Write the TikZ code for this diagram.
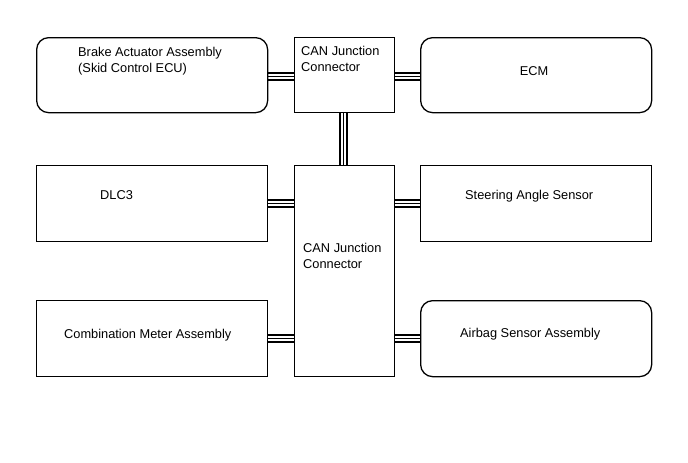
\documentclass[tikz,border=0pt]{standalone}
\usepackage{fontspec}
\setmainfont{Liberation Sans}
\pgfdeclarelayer{background}
\pgfsetlayers{background,main}
\begin{document}
\begin{tikzpicture}[x=1pt,y=-1pt,
  box/.style={draw=black,line width=1.3pt,fill=white,inner sep=0pt,anchor=north west},
  rbox/.style={box,rounded corners=12pt},
  txt/.style={anchor=base west,inner sep=0pt,font=\fontsize{12.8}{15}\selectfont},
  triple/.style={line width=9.3pt,draw=black,
    postaction={draw=white,line width=5.5pt},
    postaction={draw=black,line width=1.6pt}}]
\useasboundingbox (0,0) rectangle (688,463);
% boxes
\node[rbox,minimum width=231pt,minimum height=75pt] (brake) at (36,37) {};
\node[box,minimum width=100pt,minimum height=75pt] (cantop) at (294,37) {};
\node[rbox,minimum width=231pt,minimum height=75pt] (ecm) at (420,37) {};
\node[box,minimum width=231pt,minimum height=76pt] (dlc) at (36,165) {};
\node[box,minimum width=100pt,minimum height=211pt] (canbig) at (294,165) {};
\node[box,minimum width=231pt,minimum height=76pt] (steer) at (420,165) {};
\node[box,minimum width=231pt,minimum height=76pt] (comb) at (36,300) {};
\node[rbox,minimum width=231pt,minimum height=76pt] (airbag) at (420,300) {};
% texts
\node[txt] (t1) at (78,56) {Brake Actuator Assembly};
\node[txt] (t2) at (78,72) {(Skid Control ECU)};
\node[txt] (t3) at (301,55.5) {CAN Junction};
\node[txt] (t4) at (301,71) {Connector};
\node[txt,anchor=base] (t5) at (534,75) {ECM};
\node[txt] (t6) at (100,199) {DLC3};
\node[txt] (t7) at (465,199) {Steering Angle Sensor};
\node[txt] (t8) at (303,252.5) {CAN Junction};
\node[txt] (t9) at (303,268) {Connector};
\node[txt] (t10) at (64,338) {Combination Meter Assembly};
\node[txt] (t11) at (460,337) {Airbag Sensor Assembly};
% connectors
\begin{pgfonlayer}{background}
\draw[triple] ([yshift=-1.5pt]brake.east) -- ([yshift=-1.5pt]cantop.west);
\draw[triple] ([yshift=-1.5pt]cantop.east) -- ([yshift=-1.5pt]ecm.west);
\draw[triple] ([xshift=-1pt]cantop.south) -- ([xshift=-1pt]canbig.north);
\draw[triple] (dlc.east) -- (dlc.east -| canbig.west);
\draw[triple] (steer.west) -- (steer.west -| canbig.east);
\draw[triple] (comb.east) -- (comb.east -| canbig.west);
\draw[triple] (airbag.west) -- (airbag.west -| canbig.east);
\end{pgfonlayer}
\end{tikzpicture}
\end{document}
